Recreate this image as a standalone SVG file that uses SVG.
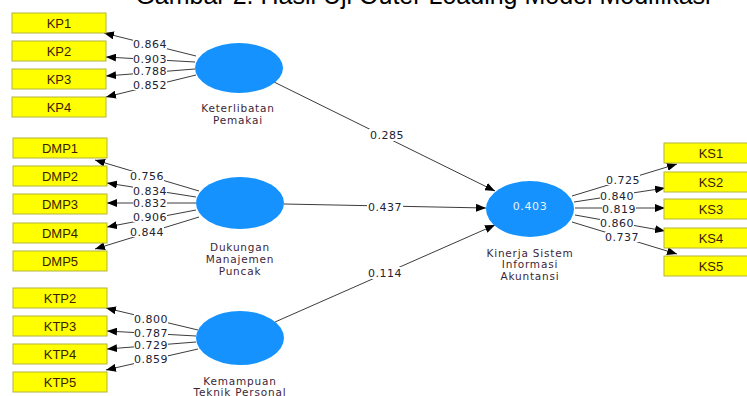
<svg xmlns="http://www.w3.org/2000/svg" width="747" height="396" viewBox="0 0 747 396">
<style>
.box{fill:#ffff00;stroke:#b4b43c;stroke-width:1}
.bt{font-family:"Liberation Sans",Arial,sans-serif;font-size:13px;fill:#3a2200;text-anchor:middle}
.lv{fill:#1592fe}
.lt{font-family:"DejaVu Sans",Verdana,sans-serif;font-size:10.5px;letter-spacing:0.8px;fill:#3d1f3a;text-anchor:middle}
.ln{stroke:#3c3c3c;stroke-width:1;fill:none;marker-end:url(#ah)}
.bg{fill:#fff}
.nm{font-family:"DejaVu Sans",Verdana,sans-serif;font-size:11px;letter-spacing:0.5px;fill:#222233;text-anchor:middle}
.title{font-family:"Liberation Sans",Arial,sans-serif;font-size:25px;fill:#000;text-anchor:middle}
</style>
<defs>
<marker id="ah" markerUnits="userSpaceOnUse" markerWidth="10" markerHeight="8" refX="10" refY="4" orient="auto">
<path d="M0,0 L10,4 L0,8 z" fill="#000"/>
</marker>
</defs>
<rect width="747" height="396" fill="#fff"/>
<text class="title" x="423" y="4">Gambar 2. Hasil Uji Outer Loading Model Modifikasi</text>

<g id="connectors">
<line class="ln" x1="196" y1="56" x2="104" y2="33"/>
<line class="ln" x1="195" y1="62" x2="106" y2="57"/>
<line class="ln" x1="195" y1="69" x2="106" y2="76"/>
<line class="ln" x1="196" y1="75" x2="106" y2="97"/>
<line class="ln" x1="199" y1="191" x2="95" y2="160"/>
<line class="ln" x1="196" y1="197" x2="107" y2="183"/>
<line class="ln" x1="196" y1="203" x2="107" y2="203"/>
<line class="ln" x1="196" y1="210" x2="107" y2="227"/>
<line class="ln" x1="199" y1="217" x2="95" y2="249"/>
<line class="ln" x1="198" y1="330" x2="106" y2="308"/>
<line class="ln" x1="196" y1="336" x2="107" y2="331"/>
<line class="ln" x1="196" y1="342" x2="107" y2="349"/>
<line class="ln" x1="198" y1="349" x2="106" y2="370"/>
<line class="ln" x1="572" y1="196" x2="677" y2="164"/>
<line class="ln" x1="574" y1="202" x2="665" y2="188"/>
<line class="ln" x1="575" y1="208" x2="665" y2="208"/>
<line class="ln" x1="575" y1="215" x2="665" y2="231"/>
<line class="ln" x1="572" y1="222" x2="677" y2="254"/>
<line class="ln" x1="274" y1="82" x2="495" y2="191"/>
<line class="ln" x1="284" y1="204" x2="486" y2="208"/>
<line class="ln" x1="275" y1="322" x2="495" y2="225"/>
<g class="bg">
<rect x="133" y="39" width="34" height="10"/>
<rect x="133" y="54" width="34" height="10"/>
<rect x="133" y="66" width="34" height="10"/>
<rect x="133" y="80" width="34" height="10"/>
<rect x="130" y="171" width="34" height="10"/>
<rect x="133" y="186" width="34" height="10"/>
<rect x="133" y="198" width="34" height="10"/>
<rect x="133" y="212" width="34" height="10"/>
<rect x="130" y="227" width="34" height="10"/>
<rect x="134" y="314" width="34" height="10"/>
<rect x="134" y="328" width="34" height="10"/>
<rect x="134" y="340" width="34" height="10"/>
<rect x="134" y="354" width="34" height="10"/>
<rect x="606" y="175" width="34" height="10"/>
<rect x="600" y="191" width="34" height="10"/>
<rect x="602" y="204" width="34" height="10"/>
<rect x="600" y="218" width="34" height="10"/>
<rect x="605" y="232" width="34" height="10"/>
<rect x="369" y="129" width="36" height="12"/>
<rect x="367" y="201" width="36" height="12"/>
<rect x="367" y="267" width="36" height="12"/>
</g>
<text class="nm" x="150" y="48">0.864</text>
<text class="nm" x="150" y="63">0.903</text>
<text class="nm" x="150" y="75">0.788</text>
<text class="nm" x="150" y="89">0.852</text>
<text class="nm" x="147" y="180">0.756</text>
<text class="nm" x="150" y="195">0.834</text>
<text class="nm" x="150" y="207">0.832</text>
<text class="nm" x="150" y="221">0.906</text>
<text class="nm" x="147" y="236">0.844</text>
<text class="nm" x="151" y="323">0.800</text>
<text class="nm" x="151" y="337">0.787</text>
<text class="nm" x="151" y="349">0.729</text>
<text class="nm" x="151" y="363">0.859</text>
<text class="nm" x="623" y="184">0.725</text>
<text class="nm" x="617" y="200">0.840</text>
<text class="nm" x="619" y="213">0.819</text>
<text class="nm" x="617" y="227">0.860</text>
<text class="nm" x="622" y="241">0.737</text>
<text class="nm" x="387" y="139">0.285</text>
<text class="nm" x="385" y="211">0.437</text>
<text class="nm" x="385" y="277">0.114</text>
</g>

<g id="KP1"><rect class="box" x="12" y="13" width="94" height="20"/><text class="bt" x="59" y="28">KP1</text></g>
<g id="KP2"><rect class="box" x="12" y="41" width="94" height="20"/><text class="bt" x="59" y="56">KP2</text></g>
<g id="KP3"><rect class="box" x="12" y="69" width="94" height="20"/><text class="bt" x="59" y="84">KP3</text></g>
<g id="KP4"><rect class="box" x="12" y="97" width="94" height="20"/><text class="bt" x="59" y="112">KP4</text></g>

<g id="DMP1"><rect class="box" x="13" y="138" width="94" height="20"/><text class="bt" x="60" y="153">DMP1</text></g>
<g id="DMP2"><rect class="box" x="13" y="166" width="94" height="20"/><text class="bt" x="60" y="181">DMP2</text></g>
<g id="DMP3"><rect class="box" x="13" y="194" width="94" height="20"/><text class="bt" x="60" y="209">DMP3</text></g>
<g id="DMP4"><rect class="box" x="13" y="223" width="94" height="20"/><text class="bt" x="60" y="238">DMP4</text></g>
<g id="DMP5"><rect class="box" x="13" y="251" width="94" height="20"/><text class="bt" x="60" y="266">DMP5</text></g>

<g id="KTP2"><rect class="box" x="13" y="288" width="94" height="20"/><text class="bt" x="60" y="303">KTP2</text></g>
<g id="KTP3"><rect class="box" x="13" y="316" width="94" height="20"/><text class="bt" x="60" y="331">KTP3</text></g>
<g id="KTP4"><rect class="box" x="13" y="344" width="94" height="20"/><text class="bt" x="60" y="359">KTP4</text></g>
<g id="KTP5"><rect class="box" x="13" y="372" width="94" height="20"/><text class="bt" x="60" y="387">KTP5</text></g>

<g id="KS1"><rect class="box" x="664" y="143" width="94" height="20"/><text class="bt" x="711" y="158">KS1</text></g>
<g id="KS2"><rect class="box" x="664" y="172" width="94" height="20"/><text class="bt" x="711" y="187">KS2</text></g>
<g id="KS3"><rect class="box" x="664" y="199" width="94" height="20"/><text class="bt" x="711" y="214">KS3</text></g>
<g id="KS4"><rect class="box" x="664" y="228" width="94" height="20"/><text class="bt" x="711" y="243">KS4</text></g>
<g id="KS5"><rect class="box" x="664" y="256" width="94" height="20"/><text class="bt" x="711" y="271">KS5</text></g>

<g id="KeterlibatanPemakai"><ellipse class="lv" cx="239" cy="68" rx="44" ry="25"/><text class="lt" x="238" y="112">Keterlibatan</text><text class="lt" x="238" y="124">Pemakai</text></g>
<g id="DukunganManajemenPuncak"><ellipse class="lv" cx="240" cy="203" rx="44" ry="26"/><text class="lt" x="240" y="251">Dukungan</text><text class="lt" x="240" y="263">Manajemen</text><text class="lt" x="240" y="275">Puncak</text></g>
<g id="KemampuanTeknikPersonal"><ellipse class="lv" cx="240" cy="338" rx="44" ry="27"/><text class="lt" x="240" y="385">Kemampuan</text><text class="lt" x="240" y="396">Teknik Personal</text></g>
<g id="KinerjaSIA"><ellipse class="lv" cx="530" cy="209" rx="44" ry="28"/><text x="530" y="210" font-family="DejaVu Sans,Verdana,sans-serif" font-size="11" letter-spacing="0.6" fill="#e8f0ff" text-anchor="middle">0.403</text><text class="lt" x="530" y="257">Kinerja Sistem</text><text class="lt" x="530" y="268">Informasi</text><text class="lt" x="530" y="280">Akuntansi</text></g>
</svg>
